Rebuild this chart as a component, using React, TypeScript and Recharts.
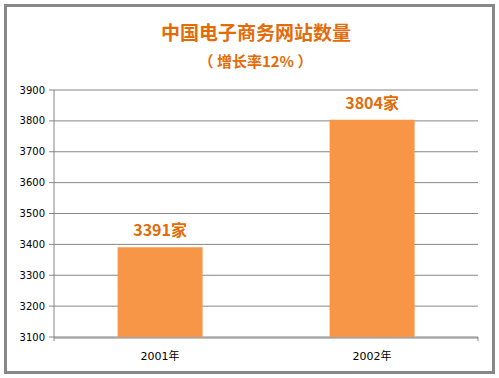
import React from "react";
import { BarChart, Bar, XAxis, YAxis, CartesianGrid, LabelList } from "recharts";

const categories = ["2001年", "2002年"];
const siteCounts = [3391, 3804];
const yTicks = [3100, 3200, 3300, 3400, 3500, 3600, 3700, 3800, 3900];
const boundaryTicks = [0, 1, 2];
const title = "中国电子商务网站数量";
const subtitle = "（ 增长率12% ）";
const unit = "家";

const data = categories.map((c, i) => ({ name: c, value: siteCounts[i] }));

const ORANGE = "#F79646";
const TITLE = "#E36C09";
const GRID = "#868686";
const CJK = "'Noto Sans CJK SC', 'Noto Sans', sans-serif";

export default function App() {
  return (
    <div style={{ position: "absolute", left: 0, top: 0, width: 499, height: 378, background: "#fff" }}>
      <div
        style={{
          position: "absolute",
          left: 4,
          top: 4,
          width: 485,
          height: 364,
          border: "3px solid #888888",
        }}
      />
      <div
        style={{
          position: "absolute",
          left: 0,
          width: 512,
          top: 19,
          textAlign: "center",
          fontFamily: CJK,
          fontWeight: "bold",
          fontSize: 19,
          lineHeight: "26px",
          color: TITLE,
        }}
      >
        {title}
      </div>
      <div
        style={{
          position: "absolute",
          left: 0,
          width: 511,
          top: 51,
          textAlign: "center",
          fontFamily: CJK,
          fontWeight: "bold",
          fontSize: 15,
          lineHeight: "20px",
          color: TITLE,
          whiteSpace: "pre",
        }}
      >
        {subtitle}
      </div>
      <div style={{ position: "absolute", left: 0, top: 0 }}>
        <BarChart
          width={499}
          height={378}
          data={data}
          margin={{ top: 90, right: 21, bottom: 11, left: 0 }}
          barCategoryGap="30%"
        >
          <CartesianGrid vertical={false} stroke={GRID} strokeWidth={1} xAxisId="cat" />
          <XAxis
            type="number"
            domain={[0, 2]}
            ticks={boundaryTicks}
            height={1}
            axisLine={false}
            tickLine={{ stroke: GRID }}
            tickSize={4}
            tickFormatter={() => ""}
            tick={{ fontSize: 1 }}
            allowDataOverflow
          />
          <XAxis
            xAxisId="cat"
            dataKey="name"
            height={29}
            axisLine={{ stroke: GRID }}
            tickLine={false}
            tick={{ fill: "#000", fontSize: 11, fontFamily: "'DejaVu Sans', 'Noto Sans CJK SC', sans-serif" }}
            tickMargin={8}
          />
          <YAxis
            domain={[3100, 3900]}
            ticks={yTicks}
            width={54}
            axisLine={{ stroke: GRID }}
            tickLine={{ stroke: GRID }}
            tickSize={5}
            tickMargin={4}
            interval={0}
            allowDataOverflow
            tick={{ fill: "#000", fontSize: 10, fontFamily: "'DejaVu Sans', sans-serif" }}
          />
          <Bar dataKey="value" xAxisId="cat" fill={ORANGE} isAnimationActive={false}>
            <LabelList
              dataKey="value"
              position="top"
              offset={11}
              formatter={(v: number) => `${v}${unit}`}
              fill={TITLE}
              fontSize={16}
              fontWeight="bold"
              fontFamily={CJK}
            />
          </Bar>
        </BarChart>
      </div>
    </div>
  );
}
